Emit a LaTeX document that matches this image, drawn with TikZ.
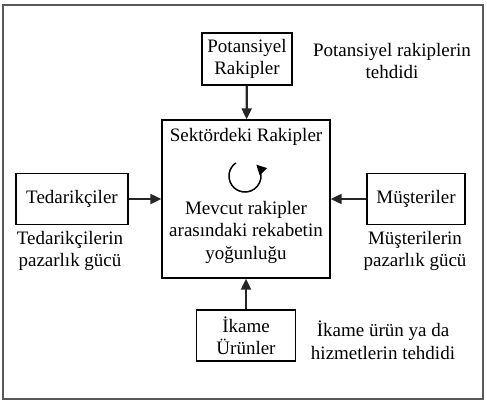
\documentclass[tikz,border=0pt]{standalone}
\usepackage{fontspec}
\setmainfont{LiberationSerif}[Extension=.ttf, UprightFont=*-Regular, BoldFont=*-Bold]
\usepackage{tikz}
\usetikzlibrary{arrows.meta,positioning}

\begin{document}
\begin{tikzpicture}[
    x=1pt, y=1pt,
    font=\fontsize{19}{22.5}\selectfont,
    box/.style={rectangle, draw=black, line width=1.4pt, inner sep=0pt, align=center},
    arrow/.style={-{Triangle[length=11pt,width=10pt]}, line width=2.2pt, draw=black!85},
    note/.style={align=center, inner sep=0pt},
]
\useasboundingbox (0,0) rectangle (487,408);

% Frame
\draw[line width=2pt, draw=black!65] (3,9) rectangle (483,403);

% Center
\node[box, minimum width=168pt, minimum height=158pt] (rakipler) at (246,209) {};
\node[note] (baslik) at (246,271) {Sektördeki Rakipler};
\node[note] (yogunluk) at (246,176) {Mevcut rakipler\\arasındaki rekabetin\\yoğunluğu};
\draw[line width=1.5pt, -{Triangle[length=10pt,width=10pt]}] (245,232) ++(125:16) arc (125:405:16);

% Forces
\node[box, minimum width=90pt, minimum height=52pt] (potansiyel) at (247,349) {Potansiyel\\Rakipler};
\node[box, minimum width=112pt, minimum height=51pt] (tedarikci) at (72,209) {Tedarikçiler};
\node[box, minimum width=98pt, minimum height=51pt] (musteri) at (416,209) {Müşteriler};
\node[box, minimum width=99pt, minimum height=51pt] (ikame) at (246,72.5) {İkame\\Ürünler};

\draw[arrow] (potansiyel) -- (rakipler);
\draw[arrow] (tedarikci) -- (rakipler);
\draw[arrow] (musteri) -- (rakipler);
\draw[arrow] (ikame) -- (rakipler);

% Labels
\node[note] (potansiyelnot) at (392,347) {Potansiyel rakiplerin\\tehdidi};
\node[note] (tedarikcinot) at (70,157) {Tedarikçilerin\\pazarlık gücü};
\node[note] (musterinot) at (415,157) {Müşterilerin\\pazarlık gücü};
\node[note] (ikamenot) at (383,68) {İkame ürün ya da\\hizmetlerin tehdidi};

\end{tikzpicture}
\end{document}
